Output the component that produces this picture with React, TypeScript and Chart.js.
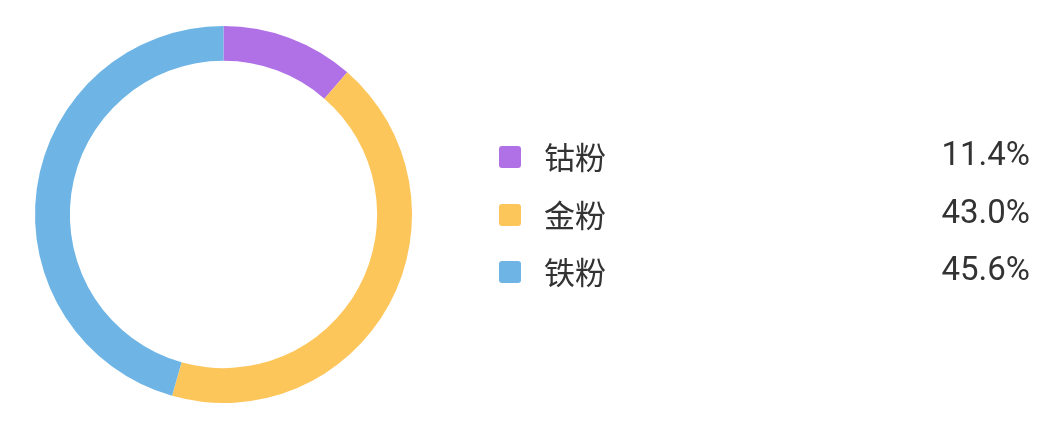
import React, { useEffect, useRef } from 'react';
import { Chart, registerables } from 'chart.js';

Chart.register(...registerables);

const labels = ['钴粉', '金粉', '铁粉'];
const values = [11.4, 43.0, 45.6];
const colors = ['#B071E6', '#FDC65A', '#6EB5E6'];

// draws the legend list on the right side of the canvas
const sideLegend = {
  id: 'sideLegend',
  afterDraw(chart: Chart) {
    const ctx = chart.ctx;
    const data = chart.data.datasets[0].data as number[];
    const total = data.reduce((a, b) => a + b, 0);
    const rowY = [157, 215, 272];
    ctx.save();
    (chart.data.labels as string[]).forEach((label, i) => {
      const y = rowY[i];
      const bg = (chart.data.datasets[0].backgroundColor as string[])[i];
      ctx.fillStyle = bg;
      ctx.beginPath();
      ctx.roundRect(499, y - 11, 22, 22, 3);
      ctx.fill();

      ctx.fillStyle = '#333333';
      ctx.textBaseline = 'middle';
      ctx.textAlign = 'left';
      ctx.font = '31px "Noto Sans CJK SC", sans-serif';
      ctx.fillText(label, 544, y);

      ctx.textAlign = 'right';
      ctx.font = '33px Roboto, sans-serif';
      ctx.fillText(((data[i] / total) * 100).toFixed(1) + '%', 1030, y);
    });
    ctx.restore();
  },
};

const App: React.FC = () => {
  const canvasRef = useRef<HTMLCanvasElement>(null);
  const chartRef = useRef<Chart | null>(null);

  useEffect(() => {
    document.body.style.margin = '0';
    if (!canvasRef.current) return;
    if (chartRef.current) chartRef.current.destroy();

    chartRef.current = new Chart(canvasRef.current, {
      type: 'doughnut',
      data: {
        labels,
        datasets: [
          {
            data: values,
            backgroundColor: colors,
            borderWidth: 0,
            hoverOffset: 0,
          },
        ],
      },
      options: {
        animation: false,
        responsive: true,
        maintainAspectRatio: false,
        cutout: '81.5%',
        layout: {
          padding: { left: 35, top: 26, right: 633, bottom: 19 },
        },
        plugins: {
          legend: { display: false },
          tooltip: { enabled: false },
        },
      },
      plugins: [sideLegend],
    });

    return () => {
      if (chartRef.current) {
        chartRef.current.destroy();
        chartRef.current = null;
      }
    };
  }, []);

  return (
    <div style={{ width: 1045, height: 422, position: 'relative' }}>
      <canvas ref={canvasRef} />
    </div>
  );
};

export default App;
